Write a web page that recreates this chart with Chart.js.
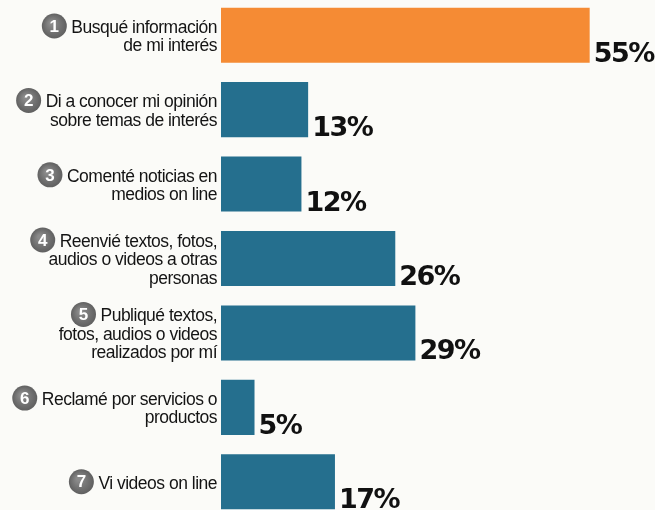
<!DOCTYPE html>
<html>
<head>
<meta charset="utf-8">
<script src="https://cdn.jsdelivr.net/npm/chart.js@4"></script>
<style>
  html, body { margin: 0; padding: 0; background: #fbfbf8; overflow: hidden; }
  #wrap { width: 655px; height: 510px; overflow: hidden; }
  #barChart { display: block; margin-top: -2px; }
</style>
</head>
<body>
<div id="wrap"><canvas id="barChart" width="655" height="521"></canvas></div>
<script>
// categories (one entry per line of the label)
var labels = [
    ["Busqué información", "de mi interés"],
    ["Di a conocer mi opinión", "sobre temas de interés"],
    ["Comenté noticias en", "medios on line"],
    ["Reenvié textos, fotos,", "audios o videos a otras", "personas"],
    ["Publiqué textos,", "fotos, audios o videos", "realizados por mí"],
    ["Reclamé por servicios o", "productos"],
    ["Vi videos on line"]
];
var values = [55, 13, 12, 26, 29, 5, 17];
var barColors = ["#f58b34", "#256f8e", "#256f8e", "#256f8e", "#256f8e", "#256f8e", "#256f8e"];

// draws the numbered labels on the left and the percentages after each bar
var labelPlugin = {
    id: 'labelPlugin',
    afterDatasetsDraw: function (chart) {
        var ctx = chart.ctx;
        var meta = chart.getDatasetMeta(0);
        var left = chart.chartArea.left;
        ctx.save();
        meta.data.forEach(function (bar, i) {
            var half = bar.height / 2;

            // value label, bottom aligned with the bar
            ctx.font = 'bold 27px "DejaVu Sans"';
            ctx.letterSpacing = '-1.5px';
            ctx.fillStyle = '#111111';
            ctx.textAlign = 'left';
            ctx.textBaseline = 'alphabetic';
            ctx.fillText(values[i] + '%', bar.x + 4, bar.y + half - 1);

            // category text, right aligned against the axis
            var lines = labels[i];
            var lh = 18.5;
            var top = bar.y + 2 - (lines.length - 1) * lh / 2;
            ctx.font = '17.5px "Liberation Sans"';
            ctx.letterSpacing = '-0.5px';
            ctx.fillStyle = '#141414';
            ctx.textAlign = 'right';
            ctx.textBaseline = 'middle';
            lines.forEach(function (line, j) {
                ctx.fillText(line, left - 4, top + j * lh);
            });

            // number badge before the first line
            var w = ctx.measureText(lines[0]).width;
            var cx = left - 4 - w - 17;
            var cy = top - 2;
            var grad = ctx.createRadialGradient(cx - 3, cy - 3, 2, cx, cy, 13);
            grad.addColorStop(0, '#8a8a8a');
            grad.addColorStop(1, '#5e5e5e');
            ctx.beginPath();
            ctx.arc(cx, cy, 12.5, 0, Math.PI * 2);
            ctx.fillStyle = grad;
            ctx.fill();
            ctx.font = 'bold 17px "Liberation Sans"';
            ctx.letterSpacing = '0px';
            ctx.fillStyle = '#ffffff';
            ctx.textAlign = 'center';
            ctx.fillText(String(i + 1), cx, cy + 1);
        });
        ctx.restore();
    }
};

var ctx = document.getElementById('barChart').getContext('2d');
var chart = new Chart(ctx, {
    type: 'bar',
    data: {
        labels: labels.map(function (l) { return l.join(' '); }),
        datasets: [{
            data: values,
            backgroundColor: barColors,
            barPercentage: 0.74,
            categoryPercentage: 1
        }]
    },
    options: {
        indexAxis: 'y',
        responsive: false,
        animation: false,
        layout: {
            padding: { left: 221, right: 5, top: 0, bottom: 0 }
        },
        scales: {
            x: { min: 0, max: 64, display: false },
            y: { display: false }
        },
        plugins: {
            legend: { display: false },
            tooltip: { enabled: false },
            title: { display: false }
        }
    },
    plugins: [labelPlugin]
});
</script>
</body>
</html>
